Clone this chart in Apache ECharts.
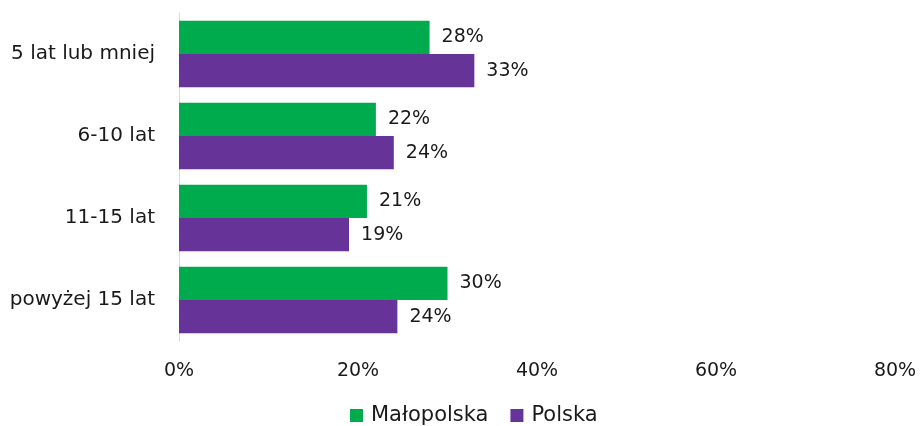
<!DOCTYPE html>
<html>
<head>
<meta charset="utf-8">
<script src="https://cdn.jsdelivr.net/npm/echarts@6/dist/echarts.min.js"></script>
<style>
  html, body { margin: 0; padding: 0; background: #fff; }
  #main { width: 920px; height: 426px; }
</style>
</head>
<body>
<div id="main"></div>
<script>
// kategorie od góry do dołu
const categories = ["5 lat lub mniej", "6-10 lat", "11-15 lat", "powyżej 15 lat"];
const malopolska = [28, 22, 21, 30];
const polska = [33, 24, 19, 24.4];
const xTicks = [0, 20, 40, 60, 80];

const font = "'DejaVu Sans', sans-serif";
const chart = echarts.init(document.getElementById("main"));

const labelStyle = {
  show: true,
  position: "right",
  distance: 12,
  formatter: p => Math.round(p.value) + "%",
  color: "#1a1a1a",
  fontSize: 19,
  fontFamily: font
};

chart.setOption({
  animation: false,
  grid: { left: 179, right: 25, top: 13, bottom: 85, containLabel: false },
  legend: {
    top: 400,
    left: 345,
    itemWidth: 13,
    itemHeight: 13,
    itemGap: 22,
    icon: "rect",
    textStyle: { fontSize: 21, fontFamily: font, color: "#1a1a1a", padding: [0, 0, 0, 3] },
    data: ["Małopolska", "Polska"]
  },
  xAxis: {
    type: "value",
    min: xTicks[0],
    max: xTicks[xTicks.length - 1],
    interval: 20,
    axisLine: { show: false },
    axisTick: { show: false },
    splitLine: { show: false },
    axisLabel: {
      formatter: v => v + "%",
      fontSize: 19,
      fontFamily: font,
      color: "#1a1a1a",
      margin: 21
    }
  },
  yAxis: {
    type: "category",
    inverse: true,
    data: categories,
    axisLine: { show: true, lineStyle: { color: "#d9d9d9" } },
    axisTick: { show: false },
    axisLabel: { fontSize: 20, fontFamily: font, color: "#1a1a1a", margin: 24 }
  },
  series: [
    {
      name: "Małopolska",
      type: "bar",
      data: malopolska,
      itemStyle: { color: "#00AB4E" },
      barGap: "0%",
      barCategoryGap: "19%",
      label: labelStyle
    },
    {
      name: "Polska",
      type: "bar",
      data: polska,
      itemStyle: { color: "#663399" },
      label: labelStyle
    }
  ]
});
</script>
</body>
</html>
